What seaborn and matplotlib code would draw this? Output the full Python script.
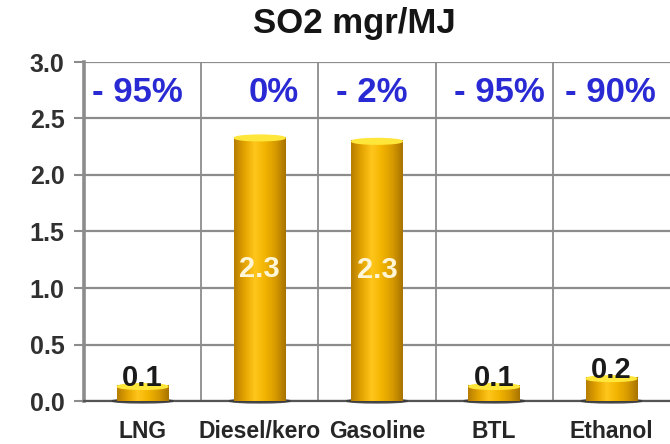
import numpy as np
import pandas as pd
import matplotlib
matplotlib.use("Agg")
import matplotlib.pyplot as plt
import seaborn as sns
from matplotlib.colors import LinearSegmentedColormap
from matplotlib.patches import Ellipse
from matplotlib.transforms import offset_copy

# SO2 emissions per fuel (mgr/MJ) and the change relative to diesel
fuels = ["LNG", "Diesel/kero", "Gasoline", "BTL", "Ethanol"]
so2 = [0.14, 2.34, 2.31, 0.14, 0.21]
change = ["- 95%", "0%", "- 2%", "- 95%", "- 90%"]
yticks = [0.0, 0.5, 1.0, 1.5, 2.0, 2.5, 3.0]

# horizontal nudge (points) of each change label inside its cell
change_dx = [-4, 10, -4, 4, -1]

sns.set_theme(style="white")
plt.rcParams["font.family"] = ["Liberation Sans", "DejaVu Sans"]
plt.rcParams["font.weight"] = "bold"

W, H = 670, 444
fig = plt.figure(figsize=(W / 100, H / 100), dpi=100)
fig.patch.set_facecolor("white")
ax = fig.add_axes([84 / W, 1 - 401 / H, 1 - 84 / W, (401 - 62) / H])

df = pd.DataFrame({"fuel": fuels, "so2": so2})
sns.barplot(data=df, x="fuel", y="so2", width=0.44, color="#E8A800",
            saturation=1, errorbar=None, ax=ax, zorder=3)

ax.set_xlim(-0.5, len(fuels) - 0.5)
ax.set_ylim(0, 3.0)
ax.set_xlabel("")
ax.set_ylabel("")

# grid: horizontal at every tick, vertical between categories
grid_col = "#8c8c8c"
ax.set_yticks(yticks)
ax.set_yticklabels([f"{t:.1f}" for t in yticks])
ax.set_xticks(np.arange(len(fuels) - 1) + 0.5, minor=True)
ax.yaxis.grid(True, color=grid_col, lw=1.6, zorder=0)
ax.xaxis.grid(True, which="minor", color=grid_col, lw=1.3, zorder=0)
ax.xaxis.grid(False, which="major")
ax.set_axisbelow(True)

for s in ("top", "right"):
    ax.spines[s].set_visible(False)
ax.spines["left"].set_color("#8c8c8c")
ax.spines["left"].set_linewidth(2.6)
ax.spines["bottom"].set_color("#555555")
ax.spines["bottom"].set_linewidth(1.6)

ax.tick_params(axis="y", which="major", length=7, width=1.5, color=grid_col,
               direction="out", pad=7, labelsize=18, labelcolor="#303030", left=True)
ax.tick_params(axis="x", which="both", length=0, pad=14, labelsize=16.5,
               labelcolor="#262626")
for lab in ax.get_xticklabels() + ax.get_yticklabels():
    lab.set_fontweight("bold")

# cylinder-like shading for the bars
shade = LinearSegmentedColormap.from_list(
    "gold", ["#B57D00", "#E3A300", "#FFC61C", "#F2B400", "#D79A00", "#A87300"])
grad = np.linspace(0, 1, 256).reshape(1, -1)
for patch, v in zip(ax.patches, so2):
    x0, y0 = patch.get_x(), patch.get_y()
    w, h = patch.get_width(), patch.get_height()
    img = ax.imshow(grad, cmap=shade, extent=(x0, x0 + w, y0, y0 + h),
                    aspect="auto", zorder=3.1, interpolation="bicubic")
    img.set_clip_path(patch)
    patch.set_edgecolor("none")
    xc = x0 + w / 2
    # base shadow and top cap
    ax.add_patch(Ellipse((xc, 0.0), w * 1.18, 0.035, color="#3c3c3c",
                         alpha=0.85, zorder=3.0, clip_on=False))
    ax.add_patch(Ellipse((xc, h - 0.012), w * 0.98, 0.05, color="#FFE63A",
                         zorder=3.3))

ax.set_xlim(-0.5, len(fuels) - 0.5)
ax.set_ylim(0, 3.0)

# value labels
for i, v in enumerate(so2):
    if v > 1:
        ax.text(i, v / 2, f"{v:.1f}", ha="center", va="center", fontsize=21,
                fontweight="bold", color="#FFF6D8", zorder=5)
    else:
        ax.text(i, v - 0.01, f"{v:.1f}", ha="center", va="baseline",
                fontsize=21, fontweight="bold", color="#1a1a1a", zorder=5)

# change vs diesel
for i, (c, dx) in enumerate(zip(change, change_dx)):
    tr = offset_copy(ax.transData, fig=fig, x=dx, y=0, units="points")
    ax.text(i, 2.73, c, ha="center", va="center", fontsize=25,
            fontweight="bold", color="#2A2AD4", zorder=5, transform=tr)

fig.text(354 / W, 1 - 33 / H, "SO2 mgr/MJ", ha="center", va="baseline",
         fontsize=25, fontweight="bold", color="#151515")

fig.savefig("out.png", dpi=100, facecolor="white")
